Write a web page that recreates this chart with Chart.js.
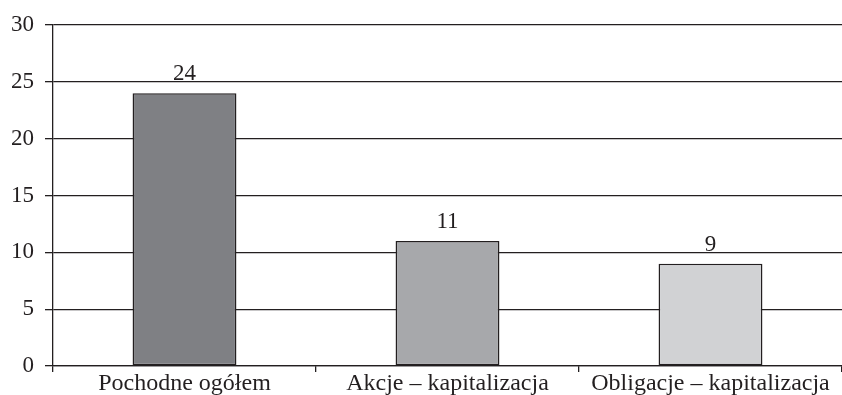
<!DOCTYPE html>
<html>
<head>
<meta charset="utf-8">
<script src="https://cdn.jsdelivr.net/npm/chart.js@4"></script>
<style>
    html, body { margin: 0; padding: 0; background: #ffffff; }
    #wrap { width: 842px; height: 395px; }
</style>
</head>
<body>
<div id="wrap"><canvas id="plot" width="842" height="395"></canvas></div>
<script>
const categories = ['Pochodne ogółem', 'Akcje – kapitalizacja', 'Obligacje – kapitalizacja'];
const values = [24, 11, 9];
const barColors = ['#7f8084', '#a7a8ab', '#d1d2d4'];
const yTicks = [0, 5, 10, 15, 20, 25, 30];

const ink = '#231f20';
const serif = "'Liberation Serif', 'DejaVu Serif', serif";

// value labels above each bar
const valueLabels = {
    id: 'valueLabels',
    afterDatasetsDraw(chart) {
        const ctx = chart.ctx;
        const meta = chart.getDatasetMeta(0);
        ctx.save();
        ctx.font = '23px ' + serif;
        ctx.fillStyle = ink;
        ctx.textAlign = 'center';
        ctx.textBaseline = 'alphabetic';
        meta.data.forEach(function (bar, i) {
            ctx.fillText(String(values[i]), bar.x, bar.y - 13);
        });
        ctx.restore();
    }
};

new Chart(document.getElementById('plot'), {
    type: 'bar',
    data: {
        labels: categories,
        datasets: [{
            data: values,
            backgroundColor: barColors,
            borderColor: ink,
            borderWidth: 1.5,
            borderSkipped: false,
            categoryPercentage: 1,
            barPercentage: 0.395
        }]
    },
    options: {
        responsive: false,
        animation: false,
        layout: { padding: { top: 25, right: 0, left: 0, bottom: 0 } },
        plugins: {
            legend: { display: false },
            tooltip: { enabled: false }
        },
        scales: {
            x: {
                grid: {
                    offset: true,
                    drawOnChartArea: false,
                    drawTicks: true,
                    tickLength: 6,
                    color: ink,
                    lineWidth: 1.3
                },
                border: { display: true, color: ink, width: 1.3 },
                ticks: {
                    color: ink,
                    font: { family: serif, size: 24, lineHeight: 1 },
                    padding: 0,
                    maxRotation: 0,
                    autoSkip: false
                },
                afterFit(scale) { scale.height = 29; }
            },
            y: {
                min: 0,
                max: 30,
                afterBuildTicks(scale) {
                    scale.ticks = yTicks.map(v => ({ value: v }));
                },
                grid: {
                    color: ink,
                    lineWidth: 1.3,
                    tickLength: 8
                },
                border: { display: true, color: ink, width: 1.3 },
                ticks: {
                    color: ink,
                    font: { family: serif, size: 23 },
                    padding: 11
                },
                afterFit(scale) { scale.width = 53; }
            }
        }
    },
    plugins: [valueLabels]
});
</script>
</body>
</html>
